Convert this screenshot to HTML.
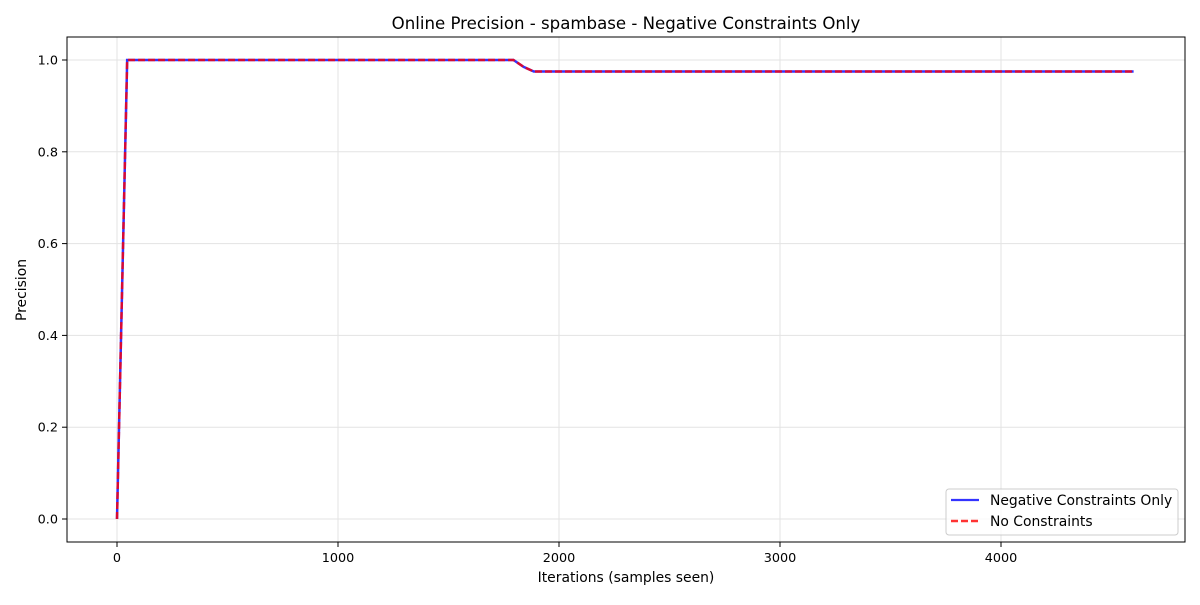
<!DOCTYPE html>
<html><head><meta charset="utf-8"><style>
body{margin:0;background:#fff;font-family:"Liberation Sans","DejaVu Sans",sans-serif}
svg text{font-family:"DejaVu Sans","Liberation Sans",sans-serif}
</style></head><body>
<svg id="chart" width="1200" height="600" viewBox="0 0 1200 600" xmlns="http://www.w3.org/2000/svg">
<rect width="1200" height="600" fill="#fff"/>
<g id="grid"></g><g id="ticks"></g><g id="series"></g>
<rect x="67" y="37" width="1118" height="505" fill="none" stroke="#000" stroke-width="1"/>
<text x="626" y="29" text-anchor="middle" font-size="16.6">Online Precision - spambase - Negative Constraints Only</text>
<text x="626" y="582" text-anchor="middle" font-size="13.9">Iterations (samples seen)</text>
<text transform="translate(26,290) rotate(-90)" text-anchor="middle" font-size="13.9">Precision</text>
<g>
<rect x="946" y="489" width="232" height="46" rx="3" fill="#fff" fill-opacity="0.8" stroke="#ccc"/>
<line x1="951" y1="500" x2="979" y2="500" stroke="#0000ff" stroke-opacity="0.8" stroke-width="2.2"/>
<text x="990" y="505" font-size="13.9">Negative Constraints Only</text>
<line x1="951" y1="521" x2="979" y2="521" stroke="#ff0000" stroke-opacity="0.8" stroke-width="2.5" stroke-dasharray="7,3"/>
<text x="990" y="526" font-size="13.9">No Constraints</text>
</g>
</svg>
<script>
const iterations=[0,46,1794,1840,1886,4600];
const negValues=[0,1,1,0.985,0.975,0.975];
const noneValues=[0,1,1,0.985,0.975,0.975];
const xTicks=[0,1000,2000,3000,4000];
const yTicks=[0,0.2,0.4,0.6,0.8,1.0];
const NS="http://www.w3.org/2000/svg";
const sx=v=>117+v*0.221, sy=v=>519-v*459;
function mk(t,a,p){const e=document.createElementNS(NS,t);for(const k in a)e.setAttribute(k,a[k]);p.appendChild(e);return e;}
const grid=document.getElementById('grid'),ticks=document.getElementById('ticks'),series=document.getElementById('series');
xTicks.forEach(v=>{const x=sx(v);
 const g=mk('line',{x1:x,x2:x,y1:37,y2:542,stroke:'#e3e3e3','stroke-width':1},grid);
 
 
 mk('line',{x1:x,x2:x,y1:542,y2:547,stroke:'#000','stroke-width':1},ticks);
 const t=mk('text',{x:x,y:562,'text-anchor':'middle','font-size':12.8},ticks);t.textContent=v;
 
 });
yTicks.forEach(v=>{const y=sy(v);
 const g=mk('line',{x1:67,x2:1185,y1:y,y2:y,stroke:'#e3e3e3','stroke-width':1},grid);
 
 
 mk('line',{x1:62,x2:67,y1:y,y2:y,stroke:'#000','stroke-width':1},ticks);
 const t=mk('text',{x:58,y:y+4.5,'text-anchor':'end','font-size':12.8},ticks);t.textContent=v.toFixed(1);
 
 });
const pts=vals=>iterations.map((it,i)=>sx(it)+','+sy(vals[i])).join(' ');
const l1=mk('polyline',{points:pts(negValues),fill:'none',stroke:'#0000ff','stroke-opacity':0.8,'stroke-width':2.5},series);


const l2=mk('polyline',{points:pts(noneValues),fill:'none',stroke:'#ff0000','stroke-opacity':0.8,'stroke-width':2.5,'stroke-dasharray':'7,3'},series);


</script>
</body></html>
